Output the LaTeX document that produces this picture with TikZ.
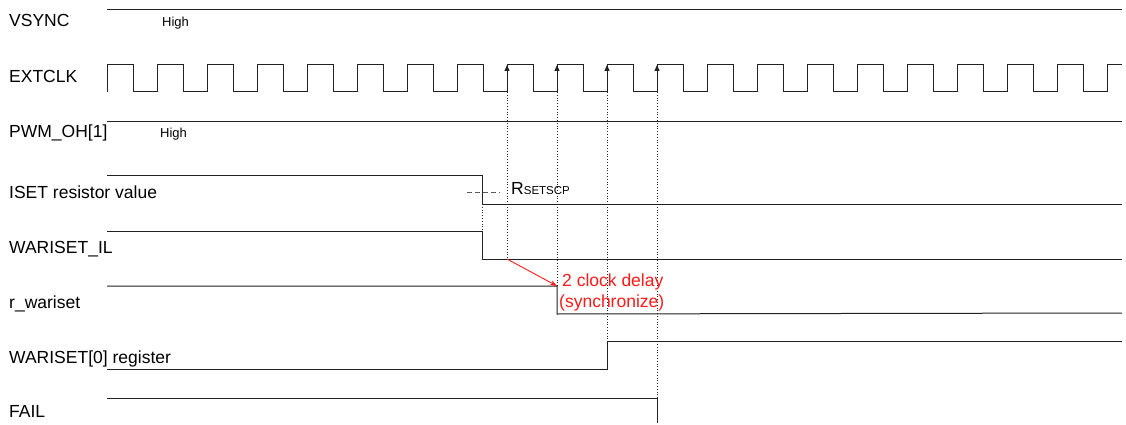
\documentclass[tikz,border=0pt]{standalone}
\usepackage{fontspec}
\setmainfont{Liberation Sans}
\usetikzlibrary{arrows.meta}
\definecolor{ink}{HTML}{222222}
\definecolor{faint}{HTML}{5A5A5A}
\definecolor{delay}{HTML}{FF1A1A}

\begin{document}
\begin{tikzpicture}[x=1pt, y=-1pt,
  wave/.style={draw=ink, line width=1pt},
  sigtag/.style={anchor=base west, inner sep=0pt, font=\fontsize{17.5}{20}\selectfont},
  lvltag/.style={anchor=base west, inner sep=0pt, font=\fontsize{13}{15}\selectfont},
  guide/.style={draw=ink, dotted, line width=0.8pt},
  clkedge/.style={draw=ink, line width=1pt, -{Triangle[length=6pt, width=5pt]}},
  delayarrow/.style={draw=delay, line width=0.9pt, -{Stealth[length=7pt, width=5pt]}}]
  \useasboundingbox (0,0) rectangle (1126,425);

  \node[sigtag] (vsync) at (9,27) {VSYNC};
  \node[lvltag] (vsynchigh) at (162,27) {High};
  \node[sigtag] (extclk) at (9,83) {EXTCLK};
  \node[sigtag] (pwm) at (9,137) {PWM\_OH[1]};
  \node[lvltag] (pwmhigh) at (160,137) {High};
  \node[sigtag] (iset) at (9,198) {ISET resistor value};
  \node[sigtag] (ilatch) at (9,253) {WARISET\_IL};
  \node[sigtag] (rwar) at (9,308) {r\_wariset};
  \node[sigtag] (wreg) at (9,363) {WARISET[0] register};
  \node[sigtag] (fail) at (9,417) {FAIL};

  \draw[wave] (107,10) -- (1122,10);
  \draw[wave] (107,92) \foreach \k in {0,...,19} { -- ++(0,-27) -- ++(26,0) -- ++(0,27) -- ++(24,0) } -- ++(0,-27) -- (1122,65);
  \draw[wave] (107,122) -- (1122,122);
  \draw[wave] (107,175) -- (482,175) -- (482,204) -- (1122,204);
  \draw[wave] (107,231) -- (482,231) -- (482,259) -- (1122,259);
  \draw[wave] (107,286) -- (557,286) -- (557,314) -- (1122,313);
  \draw[wave] (107,369) -- (607,369) -- (607,341) -- (1122,341);
  \draw[wave] (107,398) -- (657,398) -- (657,423);

  \foreach \k in {8,...,11}
    \coordinate (ck\k) at ({107+50*\k},92);
  \foreach \k in {8,...,11}
    \draw[clkedge] (ck\k) -- ++(0,-27);

  \coordinate (isetfall) at (482,204);
  \coordinate (ilhigh) at (482,231);
  \coordinate (ilfall) at (507,259);
  \coordinate (rhigh) at (557,286);
  \coordinate (whigh) at (607,341);
  \coordinate (failhigh) at (657,398);
  \draw[guide] (isetfall) -- (ilhigh);
  \draw[guide] (ck8) -- (ilfall);
  \draw[guide] (ck9) -- (rhigh);
  \draw[guide] (ck10) -- (whigh);
  \draw[guide] (ck11) -- (failhigh);

  \coordinate (dashstart) at (467,192);
  \draw[faint, dash pattern=on 5pt off 3pt, line width=0.9pt] (dashstart) -- ++(33,0);
  \node[sigtag] (rsetscp) at (511,194) {R{\fontsize{11.5}{12}\selectfont SETSCP}};

  \draw[delayarrow] (ilfall) -- (rhigh);
  \node[sigtag, text=delay] (delayline1) at (562,286) {2 clock delay};
  \node[sigtag, text=delay] (delayline2) at (559,307) {(synchronize)};
\end{tikzpicture}
\end{document}
